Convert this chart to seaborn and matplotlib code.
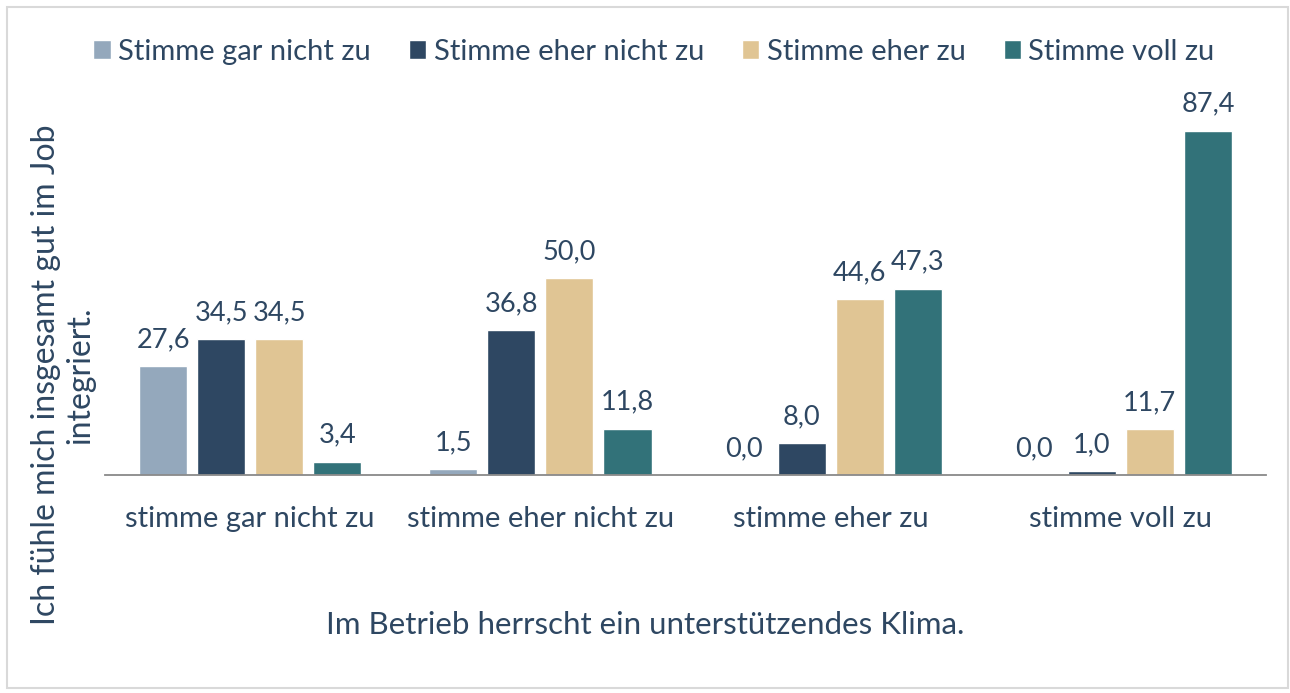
import matplotlib
matplotlib.use("Agg")
import matplotlib.pyplot as plt
import seaborn as sns
import pandas as pd
from matplotlib.patches import Rectangle

categories = ["stimme gar nicht zu", "stimme eher nicht zu", "stimme eher zu", "stimme voll zu"]
series = ["Stimme gar nicht zu", "Stimme eher nicht zu", "Stimme eher zu", "Stimme voll zu"]
s_gar_nicht = [27.6, 1.5, 0.0, 0.0]
s_eher_nicht = [34.5, 36.8, 8.0, 1.0]
s_eher = [34.5, 50.0, 44.6, 11.7]
s_voll = [3.4, 11.8, 47.3, 87.4]
colors = ["#94A8BC", "#2E4762", "#E0C594", "#327279"]
x_title = "Im Betrieb herrscht ein unterstützendes Klima."
y_title = "Ich fühle mich insgesamt gut im Job\nintegriert."

values = [s_gar_nicht, s_eher_nicht, s_eher, s_voll]
rows = []
for s, vals in zip(series, values):
    for c, v in zip(categories, vals):
        rows.append({"cat": c, "series": s, "value": v})
df = pd.DataFrame(rows)

sns.set_theme(style="white")
plt.rcParams["font.family"] = ["Lato", "DejaVu Sans"]
text_color = "#2E4762"

fig = plt.figure(figsize=(12.9, 6.93), dpi=100)
ax = fig.add_axes([105/1290, 1-475/693, (1266-105)/1290, (475-81)/693])

sns.barplot(data=df, x="cat", y="value", hue="series", order=categories,
            hue_order=series, palette=colors, width=0.8, gap=0.17,
            saturation=1, ax=ax, legend=True)

for cont, vals in zip(ax.containers, values):
    ax.bar_label(cont, labels=[f"{v:.1f}".replace(".", ",") for v in vals],
                 padding=10, fontsize=19.5, color=text_color)

ax.set_ylim(0, 100)
ax.set_xlim(-0.5, 3.5)
ax.set_yticks([])
ax.set_xlabel("")
ax.set_ylabel("")
for sp in ["top", "right", "left"]:
    ax.spines[sp].set_visible(False)
ax.spines["bottom"].set_color("#898989")
ax.spines["bottom"].set_linewidth(1.3)
ax.tick_params(axis="x", length=0, pad=22, labelsize=21, labelcolor=text_color)

handles, labels = ax.get_legend_handles_labels()
ax.get_legend().remove()
fig.legend(handles, labels, loc="center", bbox_to_anchor=(0.507, 1-52/693),
           ncol=4, frameon=False, fontsize=21, labelcolor=text_color,
           handlelength=0.6, handleheight=0.6, handletextpad=0.25, columnspacing=1.3)

fig.text(0.5, 1-625/693, x_title, ha="center", va="center", fontsize=22.5, color=text_color)
fig.text(63/1290, 1-375/693, y_title, ha="center", va="center", rotation=90,
         fontsize=23, color=text_color, multialignment="center", linespacing=1.15)

fig.patches.append(Rectangle((7/1290, 5/693), 1281/1290, 681/693, transform=fig.transFigure,
                             fill=False, edgecolor="#D9D9D9", linewidth=1.5))

fig.savefig("out.png", dpi=100, facecolor="white")
